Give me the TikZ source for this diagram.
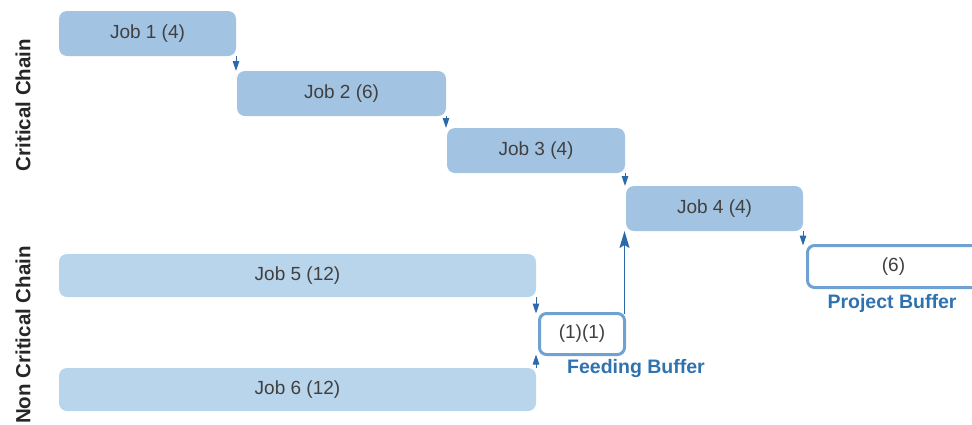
\documentclass[tikz,border=0pt]{standalone}
\usepackage{fontspec}
\setmainfont{Liberation Sans}
\usetikzlibrary{arrows.meta}
\definecolor{critfill}{HTML}{A2C4E2}
\definecolor{feedfill}{HTML}{B9D5EC}
\definecolor{bufline}{HTML}{6FA2D2}
\definecolor{arrowcol}{HTML}{2A6AA8}
\definecolor{labelblue}{HTML}{2F72B0}
\definecolor{jobtext}{HTML}{404040}
\definecolor{sidetext}{HTML}{262626}
\tikzset{
  jobbox/.style={fill=critfill, rounded corners=8pt, inner sep=0pt, outer sep=0pt,
    anchor=north west, text=jobtext, font=\fontsize{19}{22}\selectfont},
  feedbox/.style={jobbox, fill=feedfill},
  bufbox/.style={draw=bufline, line width=3pt, fill=white, rounded corners=7pt,
    inner sep=0pt, outer sep=0pt, anchor=north west, text=jobtext,
    font=\fontsize{19}{22}\selectfont},
  buflabel/.style={text=labelblue, font=\bfseries\fontsize{19.5}{22}\selectfont},
  sidelabel/.style={rotate=90, text=sidetext, font=\bfseries\fontsize{20.5}{22}\selectfont},
  link/.style={draw=arrowcol, line width=1pt, -{Triangle[length=10pt,width=6.5pt]}},
  feedlink/.style={draw=arrowcol, line width=1.4pt, -{Stealth[length=17pt,width=10pt,inset=3pt]}}
}
\begin{document}
\begin{tikzpicture}[x=1pt,y=-1pt]
  \useasboundingbox (0,0) rectangle (972,424);

  % critical chain
  \node[jobbox, minimum width=177pt, minimum height=45pt] (j1) at (59,11) {Job 1 (4)};
  \node[jobbox, minimum width=209pt, minimum height=45pt] (j2) at (237,71) {Job 2 (6)};
  \node[jobbox, minimum width=178pt, minimum height=45pt] (j3) at (447,128) {Job 3 (4)};
  \node[jobbox, minimum width=177pt, minimum height=45pt] (j4) at (626,186) {Job 4 (4)};
  \node[bufbox, minimum width=172pt, minimum height=42pt] (pb) at (807.5,245.5) {(6)};
  \node[buflabel] (pbl) at (892,303) {Project Buffer};

  % non critical chain
  \node[feedbox, minimum width=477pt, minimum height=43pt] (j5) at (59,254) {Job 5 (12)};
  \node[feedbox, minimum width=477pt, minimum height=43pt] (j6) at (59,368) {Job 6 (12)};
  \node[bufbox, minimum width=85pt, minimum height=41pt] (fb) at (539.5,313.5) {(1)(1)};
  \node[buflabel] (fbl) at (636,368) {Feeding Buffer};

  % side captions
  \node[sidelabel] (cc) at (23,105) {Critical Chain};
  \node[sidelabel] (ncc) at (23,335) {Non Critical Chain};

  % links
  \draw[link] (j1.south east) -- (j1.south east |- j2.north);
  \draw[link] (j2.south east) -- (j2.south east |- j3.north);
  \draw[link] (j3.south east) -- (j3.south east |- j4.north);
  \draw[link] (j4.south east) -- (j4.south east |- pb.north);
  \draw[link] (j5.south east) -- (j5.south east |- fb.north);
  \draw[link] (j6.north east) -- (j6.north east |- fb.south);
  \draw[feedlink] (fb.north east) -- (fb.north east |- j4.south);
\end{tikzpicture}
\end{document}
